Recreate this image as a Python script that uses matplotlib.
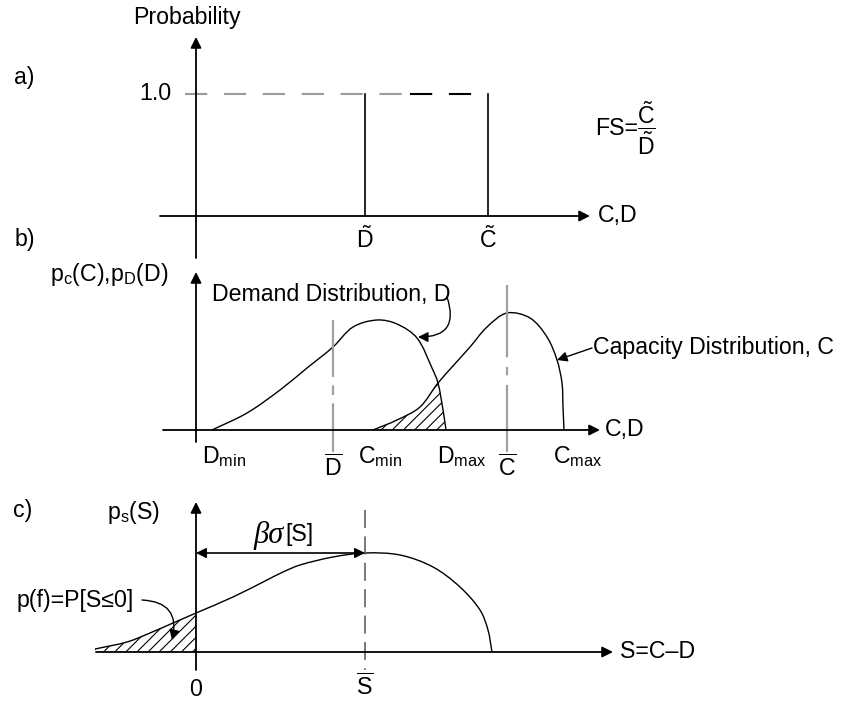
import numpy as np
import matplotlib
matplotlib.use("Agg")
import matplotlib.pyplot as plt
from matplotlib.path import Path
from matplotlib.patches import PathPatch

plt.rcParams.update({
    "font.family": ["Liberation Sans", "DejaVu Sans"],
    "font.size": 16.7,
    "mathtext.fontset": "custom",
    "mathtext.rm": "Liberation Sans",
    "mathtext.it": "Liberation Sans:italic",
    "mathtext.bf": "Liberation Sans:bold",
    "mathtext.default": "rm",
    "hatch.linewidth": 0.8,
    "lines.scale_dashes": False,
})

# ---- a) deterministic capacity and demand ----
prob_level = 1.0
d_tilde = 16.9
c_tilde = 29.2

# ---- b) demand and capacity densities ----
demand_x = [1.6, 5.1, 8.4, 11.1, 13.7, 15.7, 18.1, 20.1, 22.1, 23.6, 24.2, 24.7, 25.0]
demand_y = [0.0, 1.7, 4.0, 6.2, 8.3, 10.3, 11.0, 10.6, 9.2, 6.2, 4.7, 2.0, 0.0]
capacity_x = [17.7, 20.1, 22.4, 24.2, 27.4, 29.1, 31.1, 33.4, 35.1, 36.1, 36.6, 36.7, 36.8]
capacity_y = [0.0, 1.0, 2.3, 4.7, 8.3, 10.3, 11.7, 11.2, 9.3, 7.0, 4.7, 2.3, 0.0]
overlap_x = 24.2          # where the two densities cross
d_bar = 13.7
c_bar = 31.1
b_tick_labels = [r"$\mathrm{D_{min}}$", r"$\mathrm{C_{min}}$", r"$\mathrm{D_{max}}$", r"$\mathrm{C_{max}}$"]

# ---- c) safety margin density ----
margin_x = [-10.1, -6.9, -4.6, -2.3, 0.0, 3.7, 7.1, 8.7, 10.4, 13.7, 16.9, 20.4, 23.7, 26.4, 28.4, 29.2, 29.6]
margin_y = [0.3, 1.0, 1.9, 2.9, 3.9, 5.5, 7.2, 8.0, 8.7, 9.5, 9.9, 9.7, 8.5, 6.5, 4.2, 2.2, 0.0]
s_bar = 16.9

W, H = 845, 702
fig = plt.figure(figsize=(W / 100, H / 100), dpi=100)


def band(top, bottom):
    return [0, 1 - bottom / H, 1, (bottom - top) / H]


def smooth_segments(xs, ys):
    """Cubic Bezier pieces through the points, chord-length weighted tangents."""
    p = np.column_stack([xs, ys]).astype(float)
    n = len(p)

    def tangent(i):
        a, b = p[max(i - 1, 0)], p[min(i + 1, n - 1)]
        d = np.linalg.norm(p[i] - a) + np.linalg.norm(b - p[i])
        return (b - a) / d

    segs = []
    for i in range(n - 1):
        p1, p2 = p[i], p[i + 1]
        L = np.linalg.norm(p2 - p1)
        segs.append((p1, p1 + tangent(i) * L / 3, p2 - tangent(i + 1) * L / 3, p2))
    return segs


def build_path(segs, tail=None):
    verts = [segs[0][0]]
    codes = [Path.MOVETO]
    for s in segs:
        verts += [s[1], s[2], s[3]]
        codes += [Path.CURVE4] * 3
    if tail is not None:
        for q in tail:
            verts.append(q)
            codes.append(Path.LINETO)
        verts.append(verts[0])
        codes.append(Path.CLOSEPOLY)
    return Path(verts, codes)


def axis_arrow(ax, start, tip, lw=1.3):
    ax.annotate("", xy=tip, xytext=start,
                arrowprops=dict(arrowstyle="-|>", lw=lw, color="black",
                                mutation_scale=16, shrinkA=0, shrinkB=0))


XLIM = (-19.6, 64.9)

# ================= panel a =================
ax_a = fig.add_axes(band(0, 262))
ax_a.set_xlim(*XLIM)
ax_a.set_ylim(-0.377, 1.770)
ax_a.axis("off")

axis_arrow(ax_a, (-3.6, 0), (39.4, 0))
axis_arrow(ax_a, (0, -0.344), (0, 1.467))
split = d_tilde + 0.3 * (c_tilde - d_tilde)
ax_a.plot([-1.1, split], [prob_level, prob_level], color="#9a9a9a", lw=1.5,
          dashes=(16, 12))
ax_a.plot([split + 0.8, c_tilde - 1.0], [prob_level, prob_level], color="black",
          lw=1.5, dashes=(16, 12))
ax_a.plot([d_tilde, d_tilde], [0, prob_level], color="black", lw=1.2)
ax_a.plot([c_tilde, c_tilde], [0, prob_level], color="black", lw=1.2)

ax_a.text(-0.9, 1.623, "Probability", ha="center", va="center")
ax_a.text(-18.2, 1.131, "a)", ha="left", va="center")
ax_a.text(-2.5, prob_level, f"{prob_level:.1f}", ha="right", va="center")
ax_a.text(d_tilde, -0.189, r"$\tilde{\mathrm{D}}$", ha="center", va="center")
ax_a.text(c_tilde, -0.189, r"$\tilde{\mathrm{C}}$", ha="center", va="center")
ax_a.text(40.2, 0, "C,D", ha="left", va="center")
ax_a.text(44.2, 0.72, "FS=", ha="right", va="center")
ax_a.text(44.1, 0.72, r"$\dfrac{\tilde{\mathrm{C}}}{\tilde{\mathrm{D}}}$",
          ha="left", va="center")

# ================= panel b =================
ax_b = fig.add_axes(band(262, 485))
ax_b.set_xlim(*XLIM)
ax_b.set_ylim(-5.5, 16.8)
ax_b.axis("off")

axis_arrow(ax_b, (-3.3, 0), (40.4, 0))
axis_arrow(ax_b, (0, -1.2), (0, 15.8))

ax_b.plot([d_bar, d_bar], [11.0, -2.2], color="#a0a0a0", lw=1.6,
          dashes=(41, 6, 7, 6))
ax_b.plot([c_bar, c_bar], [14.5, -2.2], color="#a0a0a0", lw=1.6,
          dashes=(52, 7, 6, 7))

dem_segs = smooth_segments(demand_x, demand_y)
cap_segs = smooth_segments(capacity_x, capacity_y)
ax_b.add_patch(PathPatch(build_path(dem_segs), fill=False, lw=1.0, color="black"))
ax_b.add_patch(PathPatch(build_path(cap_segs), fill=False, lw=1.0, color="black"))

i_cap = int(np.argmin(np.abs(np.array(capacity_x) - overlap_x)))
i_dem = int(np.argmin(np.abs(np.array(demand_x) - overlap_x)))
overlap = build_path(cap_segs[:i_cap] + dem_segs[i_dem:],
                     tail=[(capacity_x[0], 0.0)])
ax_b.add_patch(PathPatch(overlap, facecolor="none", edgecolor="black", lw=0,
                         hatch="///"))

ax_b.text(-18.1, 19.0, "b)", ha="left", va="center")
ax_b.text(-14.6, 15.5, r"$\mathrm{p_c(C){,}p_D(D)}$", ha="left", va="center")
ax_b.text(1.6, 13.5, "Demand Distribution, D", ha="left", va="center")
ax_b.text(39.7, 8.2, "Capacity Distribution, C", ha="left", va="center")
ax_b.text(40.9, 0, "C,D", ha="left", va="center")

ax_b.annotate("", xy=(22.2, 9.3), xytext=(25.1, 13.3),
              arrowprops=dict(arrowstyle="-|>", lw=1.0, color="black",
                              connectionstyle="arc3,rad=-0.7",
                              mutation_scale=15, shrinkA=0, shrinkB=0))
ax_b.annotate("", xy=(36.1, 7.0), xytext=(39.6, 8.2),
              arrowprops=dict(arrowstyle="-|>", lw=1.0, color="black",
                              mutation_scale=15, shrinkA=0, shrinkB=0))

for xl, lab in zip([demand_x[0] - 1.0, capacity_x[0] - 1.5,
                    demand_x[-1] - 0.9, capacity_x[-1] - 1.1], b_tick_labels):
    ax_b.text(xl, -2.7, lab, ha="left", va="center")
ax_b.text(d_bar, -3.8, r"$\overline{\mathrm{D}}$", ha="center", va="center")
ax_b.text(c_bar, -3.8, r"$\overline{\mathrm{C}}$", ha="center", va="center")

# ================= panel c =================
ax_c = fig.add_axes(band(485, 702))
ax_c.set_xlim(*XLIM)
ax_c.set_ylim(-5.0, 16.7)
ax_c.axis("off")

axis_arrow(ax_c, (-10.0, 0), (41.7, 0))
axis_arrow(ax_c, (0, -1.8), (0, 15.0))

ax_c.plot([s_bar, s_bar], [14.2, -1.8], color="#555555", lw=1.1, dashes=(13, 6))

m_segs = smooth_segments(margin_x, margin_y)
ax_c.add_patch(PathPatch(build_path(m_segs), fill=False, lw=1.0, color="black"))
i0 = int(np.argmin(np.abs(np.array(margin_x))))
tail_area = build_path(m_segs[:i0], tail=[(margin_x[i0], 0.0), (margin_x[0], 0.0)])
ax_c.add_patch(PathPatch(tail_area, facecolor="none", edgecolor="black", lw=0,
                         hatch="///"))

top = max(margin_y)
ax_c.annotate("", xy=(0, top), xytext=(s_bar, top),
              arrowprops=dict(arrowstyle="<|-|>", lw=1.2, color="black",
                              mutation_scale=15, shrinkA=0, shrinkB=0))
ax_c.text(8.8, 11.6, "βσ", ha="right", va="center", fontsize=22,
          family="Liberation Serif", style="italic")
ax_c.text(8.9, 11.7, "[S]", ha="left", va="center")

ax_c.text(-18.3, 14.2, "c)", ha="left", va="center")
ax_c.text(-8.9, 14.0, r"$\mathrm{p_s(S)}$", ha="left", va="center")
ax_c.text(-17.9, 5.2, "p(f)=P[S≤0]", ha="left", va="center")
ax_c.annotate("", xy=(-2.4, 1.2), xytext=(-5.4, 5.2),
              arrowprops=dict(arrowstyle="-|>", lw=1.0, color="black",
                              connectionstyle="arc3,rad=-0.6",
                              mutation_scale=15, shrinkA=0, shrinkB=0))
ax_c.text(0, -3.8, "0", ha="center", va="center")
ax_c.text(s_bar, -3.5, r"$\overline{\mathrm{S}}$", ha="center", va="center")
ax_c.text(42.4, 0, "S=C–D", ha="left", va="center")

fig.savefig("out.png", dpi=100, facecolor="white")
